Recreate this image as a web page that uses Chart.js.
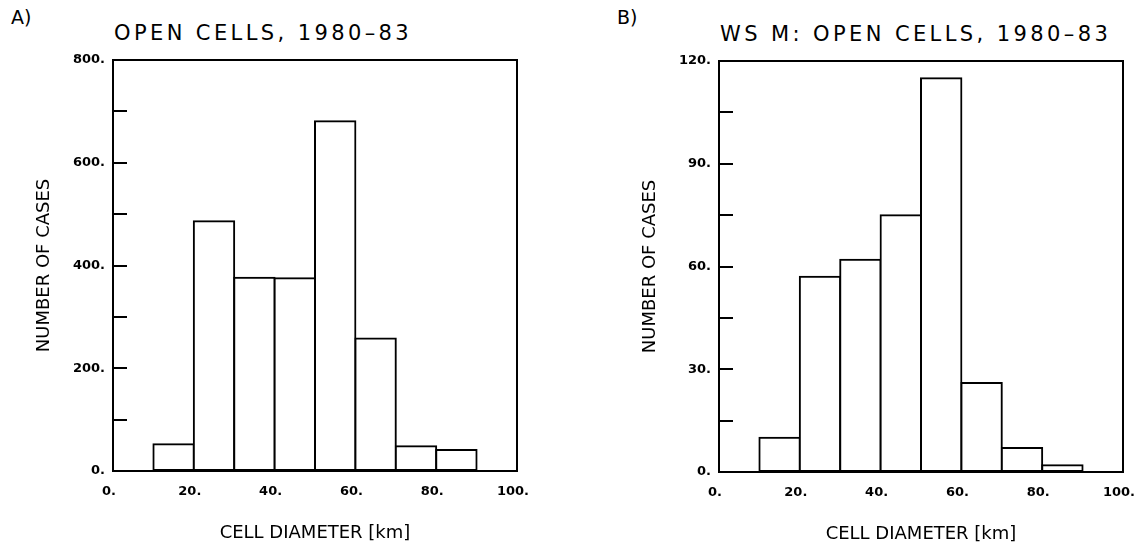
<!DOCTYPE html>
<html>
<head>
<meta charset="utf-8">
<script src="https://cdn.jsdelivr.net/npm/chart.js@4.4.1/dist/chart.umd.min.js"></script>
<style>
  html, body { margin: 0; padding: 0; background: #fff; width: 1136px; height: 546px; overflow: hidden; }
  .panel { position: absolute; top: 0; width: 560px; height: 546px; }
  .tag, .title { position: absolute; font-family: "DejaVu Sans", sans-serif; font-size: 19px; line-height: 19px; color: #000; white-space: nowrap; }
  .title { font-size: 21px; line-height: 21px; letter-spacing: 3.4px; }
</style>
</head>
<body>
<div class="tag" style="left:11px;top:8px">A)</div>
<div class="title" style="left:114px;top:23px">OPEN CELLS, 1980–83</div>
<div class="tag" style="left:617px;top:8px">B)</div>
<div class="title" style="left:720px;top:24px">WS M: OPEN CELLS, 1980–83</div>
<div class="panel" style="left:0"><canvas id="chartA"></canvas></div>
<div class="panel" style="left:606px;top:1px"><canvas id="chartB"></canvas></div>
<script>
// bin centres in km, every bin is 10 km wide
const diameters = [15, 25, 35, 45, 55, 65, 75, 85]
const casesA = [52, 486, 376, 375, 681, 258, 48, 41]
const casesB = [10, 57, 62, 75, 115, 26, 7, 2]
const xTickLabels = [0, 20, 40, 60, 80, 100]
const yTickLabelsA = [0, 200, 400, 600, 800]
const yTickLabelsB = [0, 30, 60, 90, 120]

const font = "'DejaVu Sans', sans-serif"

// closed box round the plot area
const frame = {
    id: "frame",
    afterDatasetsDraw(chart) {
        const { ctx, chartArea: a } = chart
        ctx.save()
        ctx.strokeStyle = "#000"
        ctx.lineWidth = 2
        ctx.strokeRect(a.left, a.top, a.right - a.left, a.bottom - a.top)
        ctx.restore()
    }
}

function histogram(id, counts, yLabels, minorStep) {
    return new Chart(document.getElementById(id), {
        type: "bar",
        data: {
            datasets: [{
                data: diameters.map((x, i) => ({ x, y: counts[i] })),
                backgroundColor: "#fff",
                borderColor: "#000",
                borderWidth: 2,
                borderSkipped: false,
                inflateAmount: 1,
                barPercentage: 1,
                categoryPercentage: 1
            }]
        },
        options: {
            responsive: true,
            maintainAspectRatio: false,
            animation: false,
            layout: { padding: { top: 60, right: 43, bottom: 0, left: 0 } },
            plugins: { legend: { display: false }, tooltip: { enabled: false } },
            scales: {
                x: {
                    type: "linear",
                    min: 0,
                    max: 100,
                    offset: false,
                    afterFit: s => { s.height = 75 },
                    grid: { display: false, offset: false },
                    border: { display: false },
                    ticks: {
                        stepSize: 20,
                        autoSkip: false,
                        maxRotation: 0,
                        padding: 5,
                        labelOffset: -4,
                        color: "#000",
                        font: { family: font, size: 13, weight: "bold" },
                        callback: v => xTickLabels.includes(v) ? v + "." : ""
                    },
                    title: {
                        display: true,
                        text: "CELL DIAMETER [km]",
                        color: "#000",
                        font: { family: font, size: 18 },
                        padding: { top: 0, bottom: 2 }
                    }
                },
                y: {
                    min: 0,
                    max: yLabels[yLabels.length - 1],
                    afterFit: s => { s.width = 113 },
                    grid: { drawOnChartArea: false, drawTicks: true, tickLength: -14, color: "#000", lineWidth: 2 },
                    border: { display: false },
                    ticks: {
                        stepSize: minorStep,
                        autoSkip: false,
                        padding: 22,
                        color: "#000",
                        font: { family: font, size: 13, weight: "bold" },
                        callback: v => yLabels.includes(v) ? v + "." : ""
                    },
                    title: {
                        display: true,
                        text: "NUMBER OF CASES",
                        color: "#000",
                        font: { family: font, size: 18 },
                        padding: { top: 34, bottom: 0 }
                    }
                }
            }
        },
        plugins: [frame]
    })
}

histogram("chartA", casesA, yTickLabelsA, 100)
histogram("chartB", casesB, yTickLabelsB, 15)
</script>
</body>
</html>
